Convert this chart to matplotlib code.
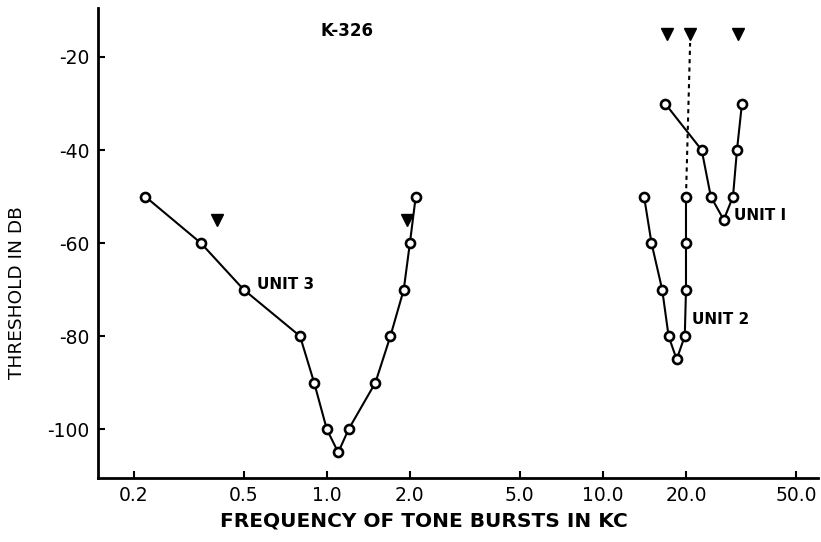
import matplotlib
matplotlib.use('Agg')
import matplotlib.pyplot as plt
from matplotlib.ticker import FixedLocator, NullLocator

# Datos (frecuencia en kc, umbral en dB)
unit3_freq = [0.22, 0.35, 0.5, 0.8, 0.9, 1.0, 1.1, 1.2, 1.5, 1.7, 1.9, 2.0, 2.1]
unit3_db = [-50, -60, -70, -80, -90, -100, -105, -100, -90, -80, -70, -60, -50]

unit1_freq = [16.8, 22.8, 24.6, 27.4, 29.6, 30.6, 31.9]
unit1_db = [-30, -40, -50, -55, -50, -40, -30]

unit2_freq = [14.1, 15.0, 16.4, 17.3, 18.5, 19.8, 20.0, 20.0, 20.0]
unit2_db = [-50, -60, -70, -80, -85, -80, -70, -60, -50]

# flechas (triangulos)
arrow_freq = [0.4, 1.96, 17.1, 20.7, 30.8]
arrow_db = [-55, -55, -15, -15, -15]

# linea punteada entre la flecha y la unidad 2
dash_freq = [20.0, 20.7]
dash_db = [-50, -17]

xticks = [0.2, 0.5, 1.0, 2.0, 5.0, 10.0, 20.0, 50.0]
xtick_labels = ['0.2', '0.5', '1.0', '2.0', '5.0', '10.0', '20.0', '50.0']
yticks = [-20, -40, -60, -80, -100]

plt.rcParams['font.family'] = ['DejaVu Sans']
plt.rcParams['axes.unicode_minus'] = False

fig = plt.figure(figsize=(8.21, 5.42), dpi=100)
ax = fig.add_axes([0.119, 0.118, 0.877, 0.867])

estilo = dict(color='black', linewidth=1.5, marker='o', markersize=6.5,
              markerfacecolor='white', markeredgecolor='black', markeredgewidth=1.9)

ax.plot(dash_freq, dash_db, color='black', linewidth=1.5, linestyle=(0, (2, 2)), zorder=1)
ax.plot(unit3_freq, unit3_db, **estilo, zorder=2)
ax.plot(unit1_freq, unit1_db, **estilo, zorder=2)
ax.plot(unit2_freq, unit2_db, **estilo, zorder=2)
ax.plot(arrow_freq, arrow_db, linestyle='none', marker='v', markersize=9,
        color='black', zorder=3)

ax.set_xscale('log')
ax.set_xlim(0.148, 60)
ax.set_ylim(-110.5, -9.5)

ax.xaxis.set_major_locator(FixedLocator(xticks))
ax.xaxis.set_minor_locator(NullLocator())
ax.set_xticklabels(xtick_labels)
ax.set_yticks(yticks)

for s in ['top', 'right']:
    ax.spines[s].set_visible(False)
for s in ['left', 'bottom']:
    ax.spines[s].set_linewidth(2.0)

ax.tick_params(direction='in', length=5, width=1.5, labelsize=13.5, pad=6)

# textos
ax.text(1.18, -14.4, 'K-326', fontsize=12, fontweight='bold', ha='center', va='center')
ax.text(0.56, -69, 'UNIT 3', fontsize=11, fontweight='bold', ha='left', va='center')
ax.text(29.9, -54, 'UNIT I', fontsize=11, fontweight='bold', ha='left', va='center')
ax.text(21.0, -76.5, 'UNIT 2', fontsize=11, fontweight='bold', ha='left', va='center')

ax.set_xlabel('FREQUENCY OF TONE BURSTS IN KC', fontsize=14.5, fontweight='bold')
ax.set_ylabel('THRESHOLD IN DB', fontsize=13.3)
ax.xaxis.set_label_coords(0.453, -0.072)
ax.yaxis.set_label_coords(-0.1, 0.394)

fig.savefig('out.png', dpi=100)
